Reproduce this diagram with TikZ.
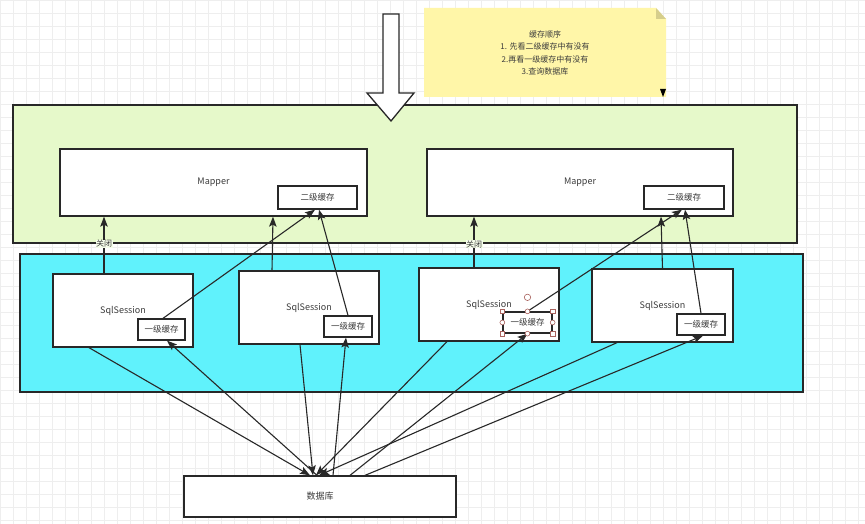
\documentclass[tikz,border=0pt]{standalone}
\usepackage{fontspec}
\setmainfont{Noto Sans CJK SC}
\usetikzlibrary{arrows.meta}
\definecolor{gridc}{RGB}{238,238,238}
\definecolor{linec}{RGB}{40,40,40}
\definecolor{textc}{RGB}{60,60,60}
\definecolor{greenc}{RGB}{230,249,202}
\definecolor{cyanc}{RGB}{96,242,252}
\definecolor{notec}{RGB}{255,246,168}
\definecolor{foldc}{RGB}{214,206,140}
\definecolor{handlec}{RGB}{170,100,95}
\tikzset{
  box/.style={draw=linec, line width=1.3pt, fill=white, inner sep=0pt,
    font=\fontsize{9}{10}\selectfont, text=textc},
  cache/.style={box, font=\fontsize{8.5}{10}\selectfont},
  region/.style={draw=linec, line width=1.3pt},
  arr/.style={draw=linec, line width=1.1pt, -{Stealth[length=10pt,width=7.5pt,inset=2pt]}},
  lbl/.style={font=\fontsize{8}{9}\selectfont, text=textc, fill=greenc!40!white, inner sep=0.5pt},
  handle/.style={draw=handlec, fill=white, line width=0.6pt}
}
\begin{document}
\begin{tikzpicture}[x=1pt,y=-1pt]
\useasboundingbox (0,0) rectangle (865,524);
\fill[white] (0,0) rectangle (865,524);
\foreach \i in {0,13,...,865} \draw[gridc, line width=0.5pt] (\i,0) -- (\i,524);
\foreach \j in {0,13,...,524} \draw[gridc, line width=0.5pt] (0,\j) -- (865,\j);

% regions
\draw[region, fill=greenc] (13,105) rectangle (797,243);
\draw[region, fill=cyanc] (20,254) rectangle (803,392);

% big arrow
\draw[linec, line width=1.3pt, fill=white] (383,14) -- (399,14) -- (399,93) -- (414,93) -- (391,121) -- (367,93) -- (383,93) -- cycle;

% note
\fill[notec] (424,8) -- (656,8) -- (666,19) -- (666,97) -- (424,97) -- cycle;
\fill[foldc] (656,8) -- (666,19) -- (656,19) -- cycle;
\fill[black] (660,89) -- (666,89) -- (663,97) -- cycle;
\node[align=center, text=textc, font=\fontsize{8}{12.6}\selectfont] (note) at (545,53)
  {缓存顺序\\1. 先看二级缓存中有没有\\2.再看一级缓存中有没有\\3.查询数据库};

% mappers
\node[box, minimum width=307, minimum height=67] (m1) at (213.5,182.5) {Mapper};
\node[cache, minimum width=79, minimum height=23] (k1) at (317.5,197.5) {二级缓存};
\node[box, minimum width=306, minimum height=67] (m2) at (580,182.5) {Mapper};
\node[cache, minimum width=80, minimum height=23] (k2) at (684,197.5) {二级缓存};

% sessions
\node[box, minimum width=140, minimum height=73] (s1) at (123,310.5) {SqlSession};
\node[cache, minimum width=47, minimum height=21] (c1) at (161.5,329.5) {一级缓存};
\node[box, minimum width=140, minimum height=73] (s2) at (309,307.5) {SqlSession};
\node[cache, minimum width=48, minimum height=21] (c2) at (348,326.5) {一级缓存};
\node[box, minimum width=140, minimum height=73] (s3) at (489,304.5) {SqlSession};
\node[cache, minimum width=49, minimum height=21] (c3) at (527.5,322.5) {一级缓存};
\node[box, minimum width=141, minimum height=73] (s4) at (662.5,305.5) {SqlSession};
\node[cache, minimum width=48, minimum height=21] (c4) at (701,324.5) {一级缓存};

% database
\node[box, minimum width=272, minimum height=41] (db) at (320,496.5) {数据库};

% session -> mapper
\draw[arr] ([xshift=-19pt]s1.north) -- node[lbl, pos=0.52] {关闭} ([xshift=-109.5pt]m1.south);
\draw[arr] ([xshift=-37pt]s2.north) -- ([xshift=59.5pt]m1.south);
\draw[arr] ([xshift=-15pt]s3.north) -- node[lbl, pos=0.46] {关闭} ([xshift=-106pt]m2.south);
\draw[arr] (s4.north) -- ([xshift=81pt]m2.south);

% cache -> second level cache
\draw[arr] ([xshift=1.5pt]c1.north) -- ([xshift=-2.5pt]k1.south);
\draw[arr] (c2.north) -- ([xshift=1.5pt]k1.south);
\draw[arr] (c3.north) -- ([xshift=-2pt]k2.south);
\draw[arr] (c4.north) -- ([xshift=1pt]k2.south);

% sessions -> database
\draw[arr] ([xshift=-34pt]s1.south) -- ([xshift=-10pt]db.north);
\draw[arr] ([xshift=-9pt]s2.south) -- ([xshift=-7pt]db.north);
\draw[arr] ([xshift=-42pt]s3.south) -- ([xshift=-4pt]db.north);
\draw[arr] ([xshift=-45.5pt]s4.south) -- ([xshift=-1pt]db.north);

% database -> first level caches
\draw[arr] ([xshift=-3pt]db.north) -- ([xshift=5.5pt]c1.south);
\draw[arr] ([xshift=13pt]db.north) -- ([xshift=-2pt]c2.south);
\draw[arr] ([xshift=30pt]db.north) -- (c3.south);
\draw[arr] ([xshift=45pt]db.north) -- ([xshift=2pt]c4.south);

% selection handles on c3
\foreach \a in {north west, north east, south west, south east}
  \draw[handle] ([xshift=-2.2pt,yshift=-2.2pt]c3.\a) rectangle ([xshift=2.2pt,yshift=2.2pt]c3.\a);
\foreach \a in {north, south, west, east}
  \draw[handle] (c3.\a) circle (2.4pt);
\draw[handle] ([yshift=14pt]c3.north) circle (3.2pt);
\end{tikzpicture}
\end{document}
